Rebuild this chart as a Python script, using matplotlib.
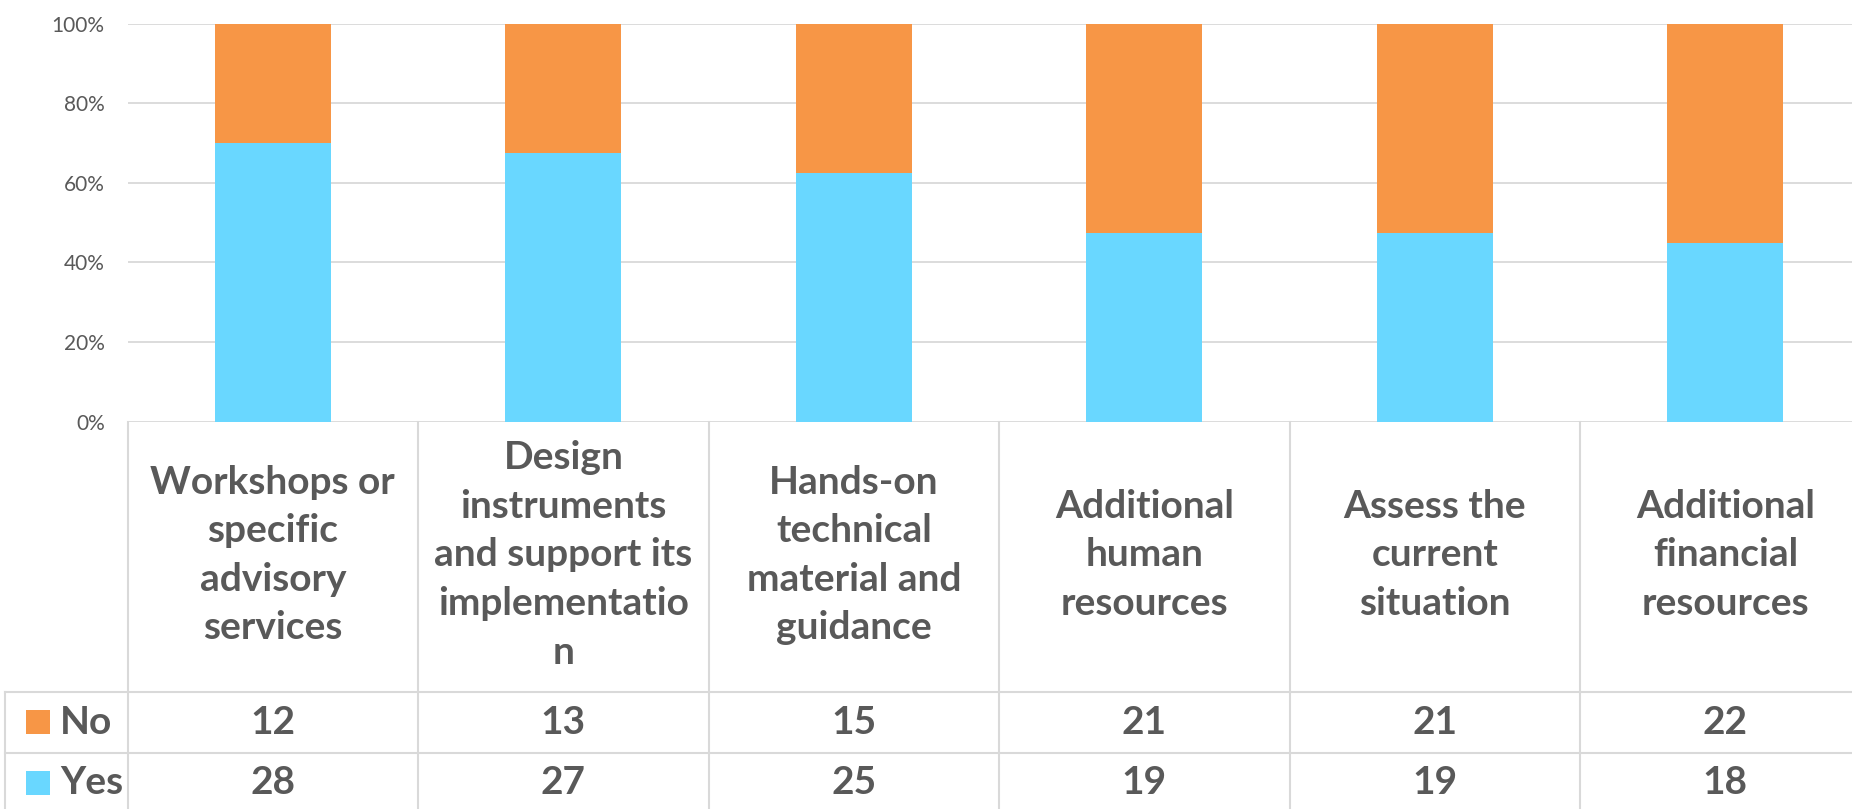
import matplotlib
matplotlib.use("Agg")
import matplotlib.pyplot as plt
from matplotlib.lines import Line2D
from matplotlib.patches import Rectangle
from matplotlib.transforms import blended_transform_factory
import numpy as np

categories = [
    "Workshops or\nspecific\nadvisory\nservices",
    "Design\ninstruments\nand support its\nimplementatio\nn",
    "Hands-on\ntechnical\nmaterial and\nguidance",
    "Additional\nhuman\nresources",
    "Assess the\ncurrent\nsituation",
    "Additional\nfinancial\nresources",
]
no_vals = [12, 13, 15, 21, 21, 22]
yes_vals = [28, 27, 25, 19, 19, 18]
series_names = ["No", "Yes"]
yticks = [0, 20, 40, 60, 80, 100]

C_NO = "#F79646"
C_YES = "#69D7FF"
C_TXT = "#595959"
C_GRID = "#D9D9D9"
FONT = "Lato"
FS = 28

W, H = 1852, 809
fig = plt.figure(figsize=(W / 100, H / 100), dpi=100)
fig.patch.set_facecolor("white")

# plot area in pixels
x0_px, colw_px = 127.6, 290.5
top_px, zero_px = 23.6, 421.6
ncat = len(categories)
ax = fig.add_axes([x0_px / W, 1 - zero_px / H, ncat * colw_px / W, (zero_px - top_px) / H])

yes = np.array(yes_vals, float)
no = np.array(no_vals, float)
tot = yes + no
yes_pct = yes / tot * 100
no_pct = no / tot * 100
x = np.arange(ncat)
ax.bar(x, yes_pct, width=0.4, color=C_YES, zorder=3)
ax.bar(x, no_pct, width=0.4, bottom=yes_pct, color=C_NO, zorder=3)

ax.set_xlim(-0.5, ncat - 0.5)
ax.set_ylim(0, 100)
ax.set_yticks(yticks)
ax.set_yticklabels([f"{t}%" for t in yticks], fontsize=15, color=C_TXT, family=FONT)
ax.tick_params(axis="y", length=0, pad=16.5)
ax.set_xticks([])
for s in ax.spines.values():
    s.set_visible(False)
ax.grid(axis="y", color=C_GRID, linewidth=1.3, zorder=0)
ax.set_axisbelow(True)

# data table
tr = blended_transform_factory(ax.transData, fig.transFigure)
trf = fig.transFigure

def fy(py):
    return 1 - py / H

row_no_top, row_yes_top, row_end = 692, 753, 814
left_border = 5 / W
for py in [row_no_top, row_yes_top]:
    fig.add_artist(Line2D([left_border, 1], [fy(py), fy(py)], transform=trf,
                          color=C_GRID, linewidth=1.5, clip_on=False))
fig.add_artist(Line2D([left_border, left_border], [fy(row_no_top), fy(row_end)], transform=trf,
                      color=C_GRID, linewidth=1.5))
for i in range(ncat + 1):
    xb = i - 0.5
    fig.add_artist(Line2D([xb, xb], [fy(zero_px), fy(row_end)], transform=tr,
                          color=C_GRID, linewidth=1.5))

for i, cat in enumerate(categories):
    fig.text(i, fy(555), cat, transform=tr, ha="center", va="center",
             fontsize=FS, fontweight="bold", color=C_TXT, family=FONT,
             linespacing=1.47)
    fig.text(i, fy(722), str(no_vals[i]), transform=tr, ha="center", va="center",
             fontsize=FS, fontweight="bold", color=C_TXT, family=FONT)
    fig.text(i, fy(783), str(yes_vals[i]), transform=tr, ha="center", va="center",
             fontsize=FS, fontweight="bold", color=C_TXT, family=FONT)

for name, col, cy in [(series_names[0], C_NO, 722), (series_names[1], C_YES, 783)]:
    fig.add_artist(Rectangle((26 / W, fy(cy + 12)), 24 / W, 24 / H, transform=trf,
                             facecolor=col, edgecolor="none"))
    fig.text(60 / W, fy(cy), name, transform=trf, ha="left", va="center",
             fontsize=FS, fontweight="bold", color=C_TXT, family=FONT)

fig.savefig("out.png", dpi=100)
